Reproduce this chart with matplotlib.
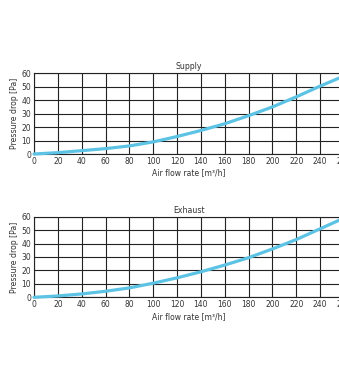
import matplotlib
matplotlib.use("Agg")
import matplotlib.pyplot as plt

flow = [0, 20, 40, 60, 80, 100, 120, 140, 160, 180, 200, 220, 240, 260]
supply = [0, 1, 2.5, 4, 6, 9, 13, 17.5, 22.5, 28.5, 35, 42.5, 50.5, 58]
exhaust = [0, 1, 2.5, 4.5, 7, 10.5, 14.5, 19, 24, 29.5, 36, 43, 51, 59]
xticks = list(range(0, 261, 20))
yticks = list(range(0, 61, 10))

W, H = 339, 387
fig = plt.figure(figsize=(W / 100, H / 100), dpi=100)
fig.patch.set_facecolor("white")

def make(ax_box, title, y):
    l, t, r, b = ax_box
    ax = fig.add_axes([l / W, 1 - b / H, (r - l) / W, (b - t) / H])
    ax.plot(flow, y, color="#5cc3e4", lw=2.3, solid_capstyle="round", zorder=3, clip_on=False)
    ax.set_xlim(0, 260)
    ax.set_ylim(0, 60)
    ax.set_xticks(xticks)
    ax.set_yticks(yticks)
    ax.grid(True, color="#222222", lw=0.8)
    for s in ax.spines.values():
        s.set_color("#222222")
        s.set_linewidth(0.8)
    ax.tick_params(length=0, labelsize=5.5, colors="#333333", pad=2)
    ax.set_title(title, fontsize=5.6, color="#333333", pad=3)
    ax.set_xlabel("Air flow rate [m³/h]", fontsize=5.5, color="#333333", labelpad=2)
    ax.set_ylabel("Pressure drop [Pa]", fontsize=5.6, color="#333333", labelpad=2)
    return ax

make((34, 73.3, 344, 154), "Supply", supply)
make((34, 216.7, 344, 297.3), "Exhaust", exhaust)

fig.savefig("out.png", dpi=100, facecolor="white")
